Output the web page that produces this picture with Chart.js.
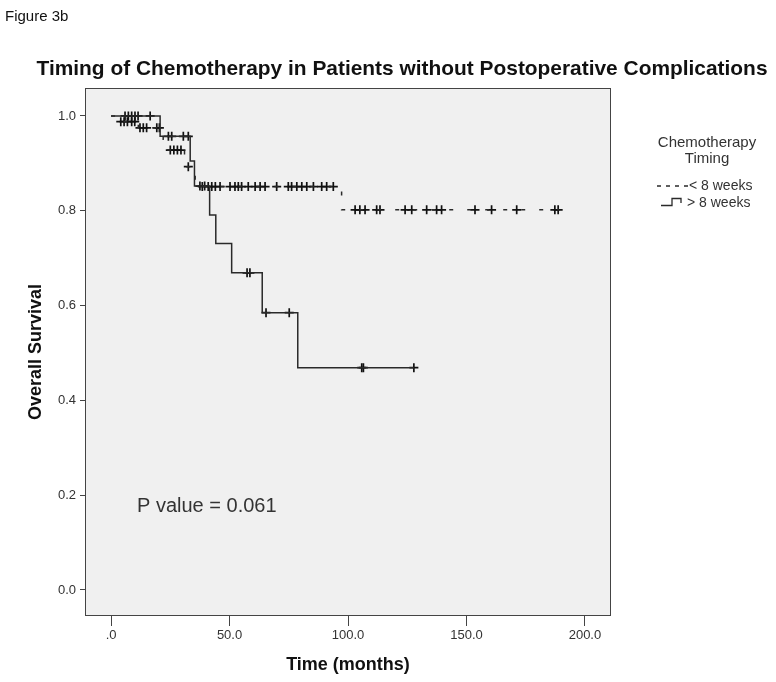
<!DOCTYPE html>
<html>
<head>
<meta charset="utf-8">
<script src="https://cdn.jsdelivr.net/npm/chart.js@4/dist/chart.umd.min.js"></script>
<style>
  body { margin: 0; background: #fff; }
  #km { display: block; }
</style>
</head>
<body>
<canvas id="km" width="776" height="682"></canvas>
<script>
// --- data ---
const xTickValues = [0, 50, 100, 150, 200]
const xTickLabels = ['.0', '50.0', '100.0', '150.0', '200.0']
const yTickValues = [0, 0.2, 0.4, 0.6, 0.8, 1.0]
const yTickLabels = ['0.0', '0.2', '0.4', '0.6', '0.8', '1.0']

// < 8 weeks (dashed)
const earlyTimes = [0, 2.5, 11.5, 22, 24, 31, 32, 34, 35.5, 97.3, 189]
const earlySurvival = [1, 0.988, 0.975, 0.951, 0.928, 0.911, 0.893, 0.875, 0.851, 0.802, 0.802]
const earlyCensored = [4.1, 5.5, 6.9, 8.7, 10, 12.2, 13.6, 15.0, 19.3, 20.4, 25, 26.5, 28, 29.5, 32.6,
    38.5, 41, 42.5, 44, 46, 50.2, 52.3, 53.7, 55.1, 57.9, 60.8, 62.9, 65.0, 69.9, 74.8, 76.2, 78.4,
    80.5, 82.6, 85.4, 88.9, 91.0, 93.8, 103, 105, 107.2, 112.1, 113.5, 124.1, 126.9, 133.2, 137.4,
    139.5, 153.6, 160.6, 171.2, 187.3, 188.7]

// > 8 weeks (solid)
const lateTimes = [0, 20.7, 33.4, 35.2, 41.6, 44.2, 50.9, 63.8, 78.8, 127.8]
const lateSurvival = [1, 0.957, 0.905, 0.852, 0.791, 0.731, 0.669, 0.585, 0.469, 0.469]
const lateCensored = [5.9, 7.3, 8.7, 10.1, 11.4, 16.5, 24.2, 25.6, 30.5, 32.6, 37.5, 39.5,
    57.4, 58.6, 65.4, 75.2, 105.8, 106.5, 127.8]

const legendTitle = ['Chemotherapy', 'Timing']
const legendLabels = ['< 8 weeks', '> 8 weeks']

const FONT = '"Liberation Sans", Arial, sans-serif'
const INK = '#2a2a2a'

// --- helpers ---
function stepPoints(times, surv) {
    return times.map((t, i) => ({ x: t, y: surv[i] }))
}

function survivalAt(times, surv, t) {
    let s = surv[0]
    times.forEach((tt, i) => { if (tt <= t) s = surv[i] })
    return s
}

function censorPoints(censored, times, surv) {
    return censored.map(t => ({ x: t, y: survivalAt(times, surv, t) }))
}

// --- decorations: plot background, frame, texts, legend ---
const spssLook = {
    id: 'spssLook',
    beforeDraw(chart) {
        const { ctx, chartArea: a } = chart
        ctx.save()
        ctx.fillStyle = '#f0f0f0'
        ctx.fillRect(a.left, a.top, a.right - a.left, a.bottom - a.top)
        ctx.restore()
    },
    afterDraw(chart) {
        const { ctx, chartArea: a } = chart
        ctx.save()
        ctx.strokeStyle = '#444'
        ctx.lineWidth = 1
        ctx.strokeRect(a.left + 0.5, a.top + 0.5, a.right - a.left - 1, a.bottom - a.top - 1)

        ctx.fillStyle = '#111'
        ctx.textBaseline = 'alphabetic'

        // figure label
        ctx.font = '15px ' + FONT
        ctx.textAlign = 'left'
        ctx.fillText('Figure 3b', 5, 21, 67)

        // title
        ctx.font = 'bold 21px ' + FONT
        ctx.textAlign = 'center'
        ctx.fillText('Timing of Chemotherapy in Patients without Postoperative Complications', 402, 75, 731)

        // axis titles
        ctx.font = 'bold 18px ' + FONT
        ctx.fillText('Time (months)', (a.left + a.right) / 2, 670)
        ctx.save()
        ctx.translate(41, (a.top + a.bottom) / 2)
        ctx.rotate(-Math.PI / 2)
        ctx.fillText('Overall Survival', 0, 0)
        ctx.restore()

        // p value
        ctx.fillStyle = '#333'
        ctx.font = '20px ' + FONT
        ctx.textAlign = 'left'
        ctx.fillText('P value = 0.061', 137, 512, 143)

        // legend
        ctx.fillStyle = '#333'
        ctx.textAlign = 'center'
        ctx.font = '15px ' + FONT
        ctx.fillText(legendTitle[0], 707, 147)
        ctx.fillText(legendTitle[1], 707, 163)

        ctx.textAlign = 'left'
        ctx.font = '14px ' + FONT
        ctx.fillText(legendLabels[0], 689, 190)
        ctx.fillText(legendLabels[1], 687, 207)

        ctx.strokeStyle = INK
        ctx.lineWidth = 1.3
        ctx.setLineDash([4, 5])
        ctx.beginPath()
        ctx.moveTo(657, 186)
        ctx.lineTo(688, 186)
        ctx.stroke()
        ctx.setLineDash([])
        ctx.beginPath()
        ctx.moveTo(661, 205.5)
        ctx.lineTo(672, 205.5)
        ctx.lineTo(672, 198.5)
        ctx.lineTo(681, 198.5)
        ctx.lineTo(681, 203)
        ctx.stroke()
        ctx.restore()
    }
}

// --- chart ---
new Chart(document.getElementById('km'), {
    type: 'scatter',
    data: {
        datasets: [
            {
                label: legendLabels[0],
                data: stepPoints(earlyTimes, earlySurvival),
                showLine: true,
                stepped: 'before',
                borderColor: INK,
                borderWidth: 1.5,
                borderDash: [4, 14],
                pointRadius: 0
            },
            {
                label: legendLabels[1],
                data: stepPoints(lateTimes, lateSurvival),
                showLine: true,
                stepped: 'before',
                borderColor: INK,
                borderWidth: 1.5,
                pointRadius: 0
            },
            {
                label: 'censored early',
                data: censorPoints(earlyCensored, earlyTimes, earlySurvival),
                showLine: false,
                pointStyle: 'cross',
                pointRadius: 4.5,
                borderColor: '#111',
                borderWidth: 1.7
            },
            {
                label: 'censored late',
                data: censorPoints(lateCensored, lateTimes, lateSurvival),
                showLine: false,
                pointStyle: 'cross',
                pointRadius: 4.5,
                borderColor: '#111',
                borderWidth: 1.7
            }
        ]
    },
    options: {
        responsive: false,
        animation: false,
        layout: { padding: { top: 88, right: 165, bottom: 0, left: 0 } },
        plugins: {
            legend: { display: false },
            tooltip: { enabled: false }
        },
        scales: {
            x: {
                type: 'linear',
                min: -11,
                max: 211,
                afterFit: scale => { scale.height = 66 },
                afterBuildTicks: scale => { scale.ticks = xTickValues.map(v => ({ value: v })) },
                border: { display: false },
                grid: { drawOnChartArea: false, drawTicks: true, tickLength: 10, color: '#444', lineWidth: 1 },
                ticks: {
                    callback: v => xTickLabels[xTickValues.indexOf(v)],
                    color: '#333',
                    font: { family: FONT, size: 13 },
                    padding: 2,
                    maxRotation: 0
                }
            },
            y: {
                type: 'linear',
                min: -0.055,
                max: 1.059,
                afterFit: scale => { scale.width = 85 },
                afterBuildTicks: scale => { scale.ticks = yTickValues.map(v => ({ value: v })) },
                border: { display: false },
                grid: { drawOnChartArea: false, drawTicks: true, tickLength: 5, color: '#444', lineWidth: 1 },
                ticks: {
                    callback: v => yTickLabels[yTickValues.findIndex(t => Math.abs(t - v) < 1e-9)],
                    color: '#333',
                    font: { family: FONT, size: 13 },
                    padding: 4
                }
            }
        }
    },
    plugins: [spssLook]
})
</script>
</body>
</html>
